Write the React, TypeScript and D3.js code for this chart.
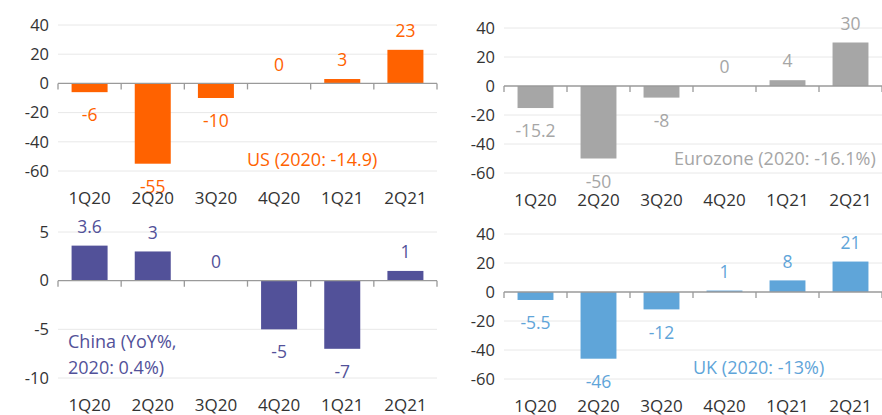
import React from "react";
import * as d3 from "d3";

const quarters = ["1Q20", "2Q20", "3Q20", "4Q20", "1Q21", "2Q21"];
const usValues = [-6, -55, -10, 0, 3, 23];
const euroValues = [-15.2, -50, -8, 0, 4, 30];
const chinaValues = [3.6, 3, 0, -5, -7, 1];
const ukValues = [-5.5, -46, -12, 1, 8, 21];
const ticks60 = [40, 20, 0, -20, -40, -60];
const ticksChina = [5, 0, -5, -10];
const usLabel = ["US (2020: -14.9)"];
const euroLabel = ["Eurozone (2020: -16.1%)"];
const chinaLabel = ["China (YoY%,", "2020: 0.4%)"];
const ukLabel = ["UK (2020: -13%)"];

const FONT = "'Open Sans', sans-serif";

type PanelProps = {
  values: number[];
  ticks: number[];
  x0: number;
  x1: number;
  yTop: number;
  yBot: number;
  xLabelY: number;
  color: string;
  label: string[];
  labelX: number;
  labelY: number;
};

function Panel(p: PanelProps) {
  const dom = [d3.min(p.ticks)!, d3.max(p.ticks)!];
  const y = d3.scaleLinear().domain(dom).range([p.yBot, p.yTop]);
  const x = d3.scaleBand<string>().domain(quarters).range([p.x0, p.x1]).paddingInner(0.43).paddingOuter(0.215);
  const step = (p.x1 - p.x0) / quarters.length;
  const y0 = y(0);
  return (
    <g>
      {p.ticks.map((t) => (
        <g key={t}>
          {t !== 0 && <line x1={p.x0} x2={p.x1} y1={y(t)} y2={y(t)} stroke="#e8e8e8" strokeWidth={1} />}
          <text x={p.x0 - 9} y={y(t)} dy="0.35em" textAnchor="end" fontSize={16.5} fill="#333" fontFamily={FONT}>
            {t}
          </text>
        </g>
      ))}
      {quarters.map((q, i) => {
        const v = p.values[i];
        const top = Math.min(y(v), y0);
        const h = Math.abs(y(v) - y0);
        const ly = v >= 0 ? y(v) - 19 : y(v) + 23;
        return (
          <g key={q}>
            <rect x={x(q)} y={top} width={x.bandwidth()} height={h} fill={p.color} />
            <text x={x(q)! + x.bandwidth() / 2} y={ly} dy="0.35em" textAnchor="middle" fontSize={17.5} fill={p.color} fontFamily={FONT}>
              {String(v)}
            </text>
            <text x={x(q)! + x.bandwidth() / 2} y={p.xLabelY} dy="0.35em" textAnchor="middle" fontSize={17} fill="#333" fontFamily={FONT}>
              {q}
            </text>
          </g>
        );
      })}
      <line x1={p.x0} x2={p.x1} y1={y0} y2={y0} stroke="#9a9a9a" strokeWidth={1.3} />
      {d3.range(quarters.length + 1).map((i) => (
        <line key={i} x1={p.x0 + i * step} x2={p.x0 + i * step} y1={y0} y2={y0 + 6} stroke="#9a9a9a" strokeWidth={1.3} />
      ))}
      {p.label.map((s, i) => (
        <text key={i} x={p.labelX} y={p.labelY + i * 26} dy="0.35em" fontSize={18} fill={p.color} fontFamily={FONT}>
          {s}
        </text>
      ))}
    </g>
  );
}

export default function App() {
  return (
    <svg width={882} height={415} style={{ position: "absolute", left: 0, top: 0, background: "#fff" }}>
      <Panel values={usValues} ticks={ticks60} x0={58} x1={437} yTop={25} yBot={171} xLabelY={198} color="#FF6200" label={usLabel} labelX={247} labelY={160} />
      <Panel values={euroValues} ticks={ticks60} x0={504} x1={882} yTop={28} yBot={173} xLabelY={200} color="#A6A6A6" label={euroLabel} labelX={674} labelY={159} />
      <Panel values={chinaValues} ticks={ticksChina} x0={58} x1={437} yTop={232} yBot={378} xLabelY={405} color="#525199" label={chinaLabel} labelX={68} labelY={342} />
      <Panel values={ukValues} ticks={ticks60} x0={504} x1={882} yTop={234} yBot={379} xLabelY={406} color="#5FA5D9" label={ukLabel} labelX={693} labelY={368} />
    </svg>
  );
}
